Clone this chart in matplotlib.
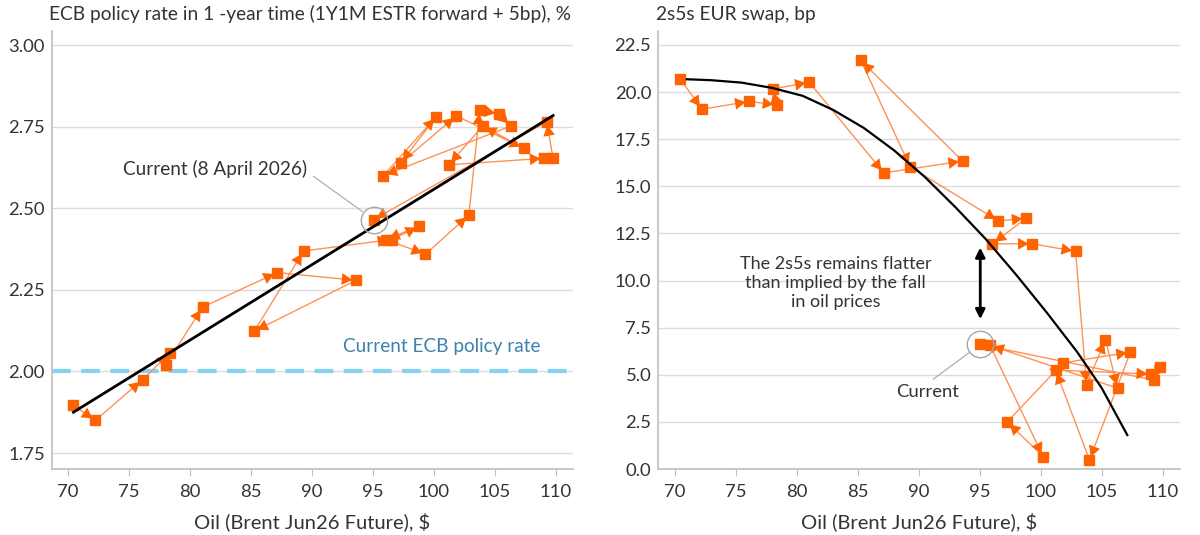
import numpy as np
import matplotlib
matplotlib.use("Agg")
import matplotlib.pyplot as plt

plt.rcParams['font.family'] = ['Lato', 'DejaVu Sans']

# daily path, oldest first, last point = current (8 April 2026)
oil = [70.44, 72.25, 76.11, 78.38, 78.03, 81.03, 87.15, 93.6, 85.26, 89.32,
       96.54, 98.8, 96.05, 99.3, 102.86, 103.76, 105.31, 106.3, 95.85, 100.2,
       97.26, 101.83, 107.35, 104.0, 101.22, 109.02, 109.76, 109.25, 95.05]
ecb_1y = [1.896, 1.850, 1.975, 2.057, 2.020, 2.197, 2.303, 2.279, 2.123, 2.369,
          2.404, 2.445, 2.404, 2.359, 2.479, 2.800, 2.789, 2.752, 2.600, 2.781,
          2.638, 2.783, 2.684, 2.752, 2.633, 2.653, 2.653, 2.765, 2.465]
swap_2s5s = [20.71, 19.09, 19.50, 19.32, 20.16, 20.52, 15.71, 16.34, 21.68, 16.02,
             13.16, 13.30, 11.95, 11.95, 11.55, 4.45, 6.87, 4.29, 6.56, 0.66,
             2.50, 5.63, 6.20, 0.48, 5.25, 5.04, 5.43, 4.72, 6.61]

# trend lines
fit_left_x = [70.44, 109.77]
fit_left_y = [1.875, 2.784]
fit_right_x = [71.0, 73.0, 75.5, 78.0, 80.5, 83.0, 85.5, 88.0, 90.5, 93.0, 95.5,
               98.0, 100.5, 103.0, 105.0, 107.1]
fit_right_y = [20.68, 20.63, 20.5, 20.22, 19.8, 19.05, 18.1, 16.9, 15.5, 13.9, 12.2,
               10.3, 8.3, 6.2, 4.3, 1.8]

ORANGE = '#FF6200'
LIGHT = '#FF9157'
GRID = '#DCDCDC'
TXT = '#333333'
FS = 13.3

fig = plt.figure(figsize=(12, 5.35), dpi=100)
ax1 = fig.add_axes([51.7 / 1200, 1 - 469 / 535, 521.3 / 1200, 438 / 535])
ax2 = fig.add_axes([658.2 / 1200, 1 - 469 / 535, 521.6 / 1200, 438 / 535])


def path(ax, x, y):
    ax.plot(x, y, color=LIGHT, lw=1.0, zorder=2)
    for i in range(1, len(x)):
        ax.annotate('', xy=(x[i], y[i]), xytext=(x[i - 1], y[i - 1]),
                    arrowprops=dict(arrowstyle='-|>,head_length=0.45,head_width=0.25',
                                    mutation_scale=17, lw=0,
                                    color=ORANGE, shrinkA=0, shrinkB=2.5),
                    zorder=3)
    ax.plot(x, y, ls='none', marker='s', ms=7, color=ORANGE, zorder=3)


def style(ax):
    for s in ['top', 'right']:
        ax.spines[s].set_visible(False)
    for s in ['left', 'bottom']:
        ax.spines[s].set_color('#BFBFBF')
        ax.spines[s].set_linewidth(1.2)
    ax.grid(axis='y', color=GRID, lw=1)
    ax.set_axisbelow(True)
    ax.tick_params(axis='y', length=0, labelsize=FS, labelcolor=TXT, pad=5)
    ax.tick_params(axis='x', length=5, color='#BFBFBF', labelsize=FS,
                   labelcolor=TXT, pad=6)
    ax.set_xticks(range(70, 111, 5))
    ax.set_xlim(68.66, 111.4)
    ax.set_xlabel('Oil (Brent Jun26 Future), $', fontsize=14.5, color=TXT,
                  labelpad=9)


# left panel
style(ax1)
ax1.set_ylim(1.701, 3.043)
ax1.set_yticks(np.arange(1.75, 3.01, 0.25))
ax1.set_yticklabels(['%.2f' % v for v in np.arange(1.75, 3.01, 0.25)])
ax1.axhline(2.0, color='#86D2F5', lw=3, dashes=(4.5, 2.5), zorder=1)
ax1.text(100.6, 2.075, 'Current ECB policy rate', color='#3D82AD',
         fontsize=FS + 0.4, ha='center', va='center')
path(ax1, oil, ecb_1y)
ax1.plot(fit_left_x, fit_left_y, color='black', lw=2, zorder=4)
ax1.plot(oil[-1], ecb_1y[-1], marker='o', ms=19, mfc='none', mec='#A6A6A6',
         mew=1, zorder=5)
ax1.annotate('Current (8 April 2026)', xy=(oil[-1], ecb_1y[-1]),
             xytext=(89.6, 2.62), ha='right', va='center', fontsize=FS + 0.4,
             color=TXT,
             arrowprops=dict(arrowstyle='-', color='#A6A6A6', lw=0.8,
                             shrinkA=3, shrinkB=10, relpos=(1.0, 0.35)))
ax1.set_title('ECB policy rate in 1 -year time (1Y1M ESTR forward + 5bp), %',
              loc='left', fontsize=13.8, color=TXT, pad=8, x=-0.005)

# right panel
style(ax2)
ax2.set_ylim(0, 23.24)
ax2.set_yticks(np.arange(0, 22.6, 2.5))
ax2.set_yticklabels(['%.1f' % v for v in np.arange(0, 22.6, 2.5)])
path(ax2, oil, swap_2s5s)
ax2.plot(fit_right_x, fit_right_y, color='black', lw=1.6, zorder=4)
ax2.plot(oil[-1], swap_2s5s[-1], marker='o', ms=19, mfc='none', mec='#A6A6A6',
         mew=1, zorder=5)
ax2.annotate('Current', xy=(oil[-1], swap_2s5s[-1]), xytext=(90.7, 4.1),
             ha='center', va='center', fontsize=FS, color=TXT,
             arrowprops=dict(arrowstyle='-', color='#A6A6A6', lw=0.8,
                             shrinkA=2, shrinkB=10, relpos=(0.5, 1.0)))
ax2.text(83.2, 9.87, 'The 2s5s remains flatter\nthan implied by the fall\nin oil prices',
         ha='center', va='center', fontsize=FS - 0.3, color=TXT, linespacing=1.2)
ax2.annotate('', xy=(oil[-1], 11.75), xytext=(oil[-1], 7.95),
             arrowprops=dict(arrowstyle='<|-|>', color='black', lw=2,
                             mutation_scale=14, shrinkA=0, shrinkB=0))
ax2.set_title('2s5s EUR swap, bp', loc='left', fontsize=13.8, color=TXT, pad=8,
              x=-0.005)

fig.savefig('out.png', dpi=100)
